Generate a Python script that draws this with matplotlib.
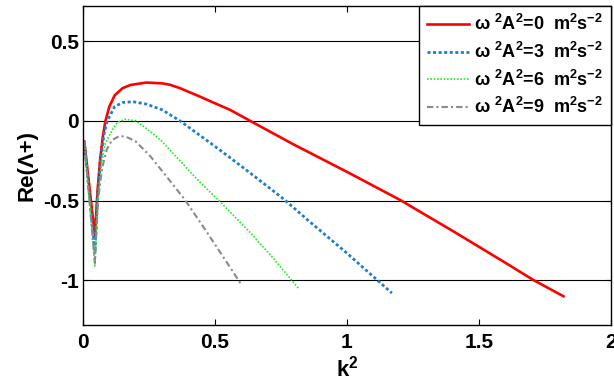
import matplotlib
matplotlib.use("Agg")
import matplotlib.pyplot as plt

plt.rcParams['font.family'] = ['Liberation Sans', 'DejaVu Sans']
plt.rcParams['font.weight'] = 'bold'
plt.rcParams['mathtext.fontset'] = 'custom'
plt.rcParams['mathtext.rm'] = 'Liberation Sans:bold'
plt.rcParams['mathtext.it'] = 'Liberation Sans:bold'
plt.rcParams['mathtext.bf'] = 'Liberation Sans:bold'
plt.rcParams['mathtext.default'] = 'regular'

# Growth-rate curves Re(Lambda+) against k^2 for four forcing levels
red_k2 = [0.005, 0.045, 0.055, 0.065, 0.075, 0.085, 0.100, 0.120, 0.150, 0.180,
          0.240, 0.300, 0.330, 0.367, 0.443, 0.500, 0.557, 0.633, 0.800, 1.000,
          1.200, 1.400, 1.600, 1.705, 1.820]
red_re = [-0.13, -0.72, -0.44, -0.24, -0.10, 0.00, 0.09, 0.16, 0.205, 0.225,
          0.240, 0.235, 0.226, 0.205, 0.152, 0.11, 0.069, 0.00, -0.15, -0.32,
          -0.495, -0.69, -0.89, -0.997, -1.10]

blue_k2 = [0.005, 0.045, 0.055, 0.066, 0.080, 0.092, 0.120, 0.150, 0.190, 0.240,
           0.300, 0.367, 0.500, 0.620, 0.760, 0.850, 1.000, 1.170]
blue_re = [-0.13, -0.82, -0.48, -0.25, -0.08, 0.00, 0.09, 0.115, 0.12, 0.105,
           0.069, 0.00, -0.16, -0.31, -0.49, -0.62, -0.83, -1.08]

green_k2 = [0.005, 0.045, 0.056, 0.070, 0.085, 0.110, 0.130, 0.160, 0.200, 0.250,
            0.300, 0.350, 0.440, 0.515, 0.633, 0.720, 0.816]
green_re = [-0.13, -0.91, -0.50, -0.27, -0.14, -0.06, -0.01, 0.01, 0.00, -0.06,
            -0.13, -0.22, -0.38, -0.50, -0.70, -0.86, -1.05]

grey_k2 = [0.005, 0.045, 0.057, 0.072, 0.090, 0.110, 0.140, 0.170, 0.200, 0.254,
           0.317, 0.386, 0.462, 0.530, 0.601]
grey_re = [-0.13, -0.89, -0.50, -0.30, -0.18, -0.12, -0.094, -0.105, -0.13, -0.22,
           -0.35, -0.495, -0.68, -0.85, -1.03]

labels = [r'ω $^{2}$A$^{2}$=0  m$^{2}$s$^{-2}$',
          r'ω $^{2}$A$^{2}$=3  m$^{2}$s$^{-2}$',
          r'ω $^{2}$A$^{2}$=6  m$^{2}$s$^{-2}$',
          r'ω $^{2}$A$^{2}$=9  m$^{2}$s$^{-2}$']

x_ticks = [0, 0.5, 1, 1.5, 2]
x_ticklabels = ['0', '0.5', '1', '1.5', '2']
y_ticks = [-1, -0.5, 0, 0.5]
y_ticklabels = ['-1', '-0.5', '0', '0.5']

fig = plt.figure(figsize=(6.14, 3.83), dpi=100)
ax = fig.add_axes([83 / 614, 1 - 325 / 383, 528 / 614, 319 / 383])

ax.plot(red_k2, red_re, color='#ff0000', lw=1.9, ls='-', label=labels[0])
ax.plot(blue_k2, blue_re, color='#1f80c8', lw=2.0, ls=(0, (1.1, 0.9)), label=labels[1])
ax.plot(green_k2, green_re, color='#22ee22', lw=1.2, ls=(0, (1, 1)), label=labels[2])
ax.plot(grey_k2, grey_re, color='#8a8a8a', lw=1.5, ls=(0, (3, 1.5, 1, 1.5)), label=labels[3])

ax.set_xlim(0, 2)
ax.set_ylim(-1.28, 0.72)
ax.set_xticks(x_ticks)
ax.set_xticklabels(x_ticklabels)
ax.set_yticks(y_ticks)
ax.set_yticklabels(y_ticklabels)
ax.tick_params(direction='in', length=4, width=0.8, top=True, right=True,
               labelsize=15)
ax.tick_params(axis='y', pad=3)
ax.tick_params(axis='x', pad=6)
for lab in ax.get_xticklabels() + ax.get_yticklabels():
    lab.set_fontweight('bold')
ax.yaxis.grid(True, color='black', lw=0.8)
ax.set_axisbelow(True)
for sp in ax.spines.values():
    sp.set_linewidth(1.0)

ax.set_xlabel(r'k$^{2}$', fontsize=16, fontweight='bold', labelpad=2)
ax.set_ylabel('Re(Λ+)', fontsize=16, fontweight='bold', labelpad=4)

leg = ax.legend(loc='upper right', bbox_to_anchor=(1, 1), borderaxespad=0,
                fontsize=13, frameon=True, fancybox=False, framealpha=1,
                edgecolor='black', handlelength=2.3, handletextpad=0.3,
                labelspacing=0.42, borderpad=0.45)
leg.get_frame().set_linewidth(1.0)
for t in leg.get_texts():
    t.set_fontweight('bold')

fig.savefig('out.png', dpi=100)
